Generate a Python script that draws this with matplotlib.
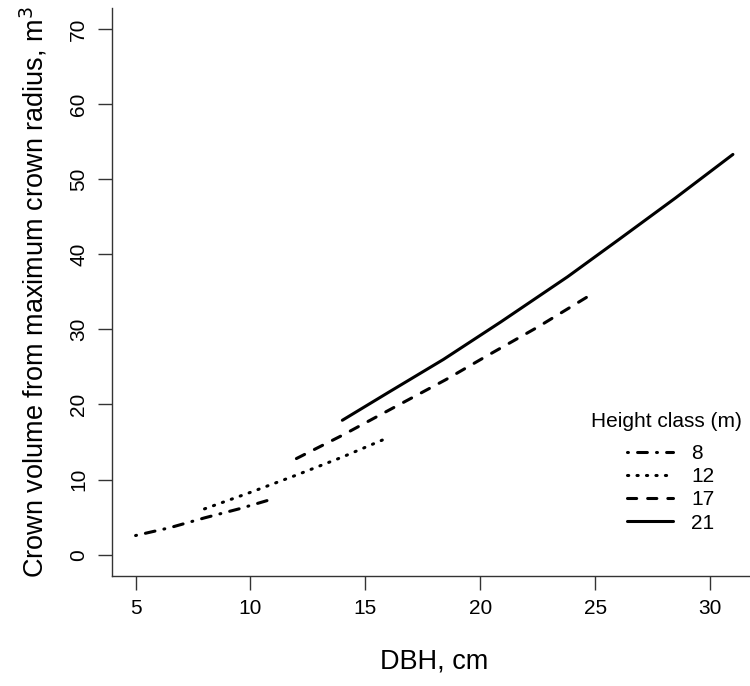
import matplotlib
matplotlib.use('Agg')
import matplotlib.pyplot as plt

plt.rcParams['font.family'] = ['Liberation Sans', 'DejaVu Sans']

# predicted crown volume (m3) against DBH (cm) for each height class
dbh_8 = [5, 6.5, 8, 9.5, 11]
vol_8 = [2.55, 3.6, 4.9, 6.1, 7.45]

dbh_12 = [8, 10, 12, 14, 16]
vol_12 = [6.1, 8.3, 10.6, 13.0, 15.6]

dbh_17 = [12, 14, 16, 18.5, 20.25, 22.5, 24.7]
vol_17 = [12.8, 15.9, 19.2, 23.3, 26.4, 30.3, 34.4]

dbh_21 = [14, 16, 18.4, 20.9, 23.8, 26.05, 28.5, 31]
vol_21 = [17.9, 21.6, 26.0, 31.0, 37.0, 42.0, 47.5, 53.3]

height_classes = ['8', '12', '17', '21']
x_ticks = [5, 10, 15, 20, 25, 30]
y_ticks = [0, 10, 20, 30, 40, 50, 60, 70]

W, H = 750, 686
fig = plt.figure(figsize=(W / 100, H / 100), dpi=100)

# axes box in pixels: left 111.7, bottom 575.7, top 8, right runs past the edge
left, bottom, top, right = 111.7, 575.7, 8.0, 756.8
ax = fig.add_axes([left / W, (H - bottom) / H, (right - left) / W, (bottom - top) / H])

lw = 2.2
styles = [
    dict(linestyle=(0, (0.3, 3.0, 3.2, 3.0))),   # dot-dash
    dict(linestyle=(0, (0.4, 2.7))),             # dotted
    dict(linestyle=(0, (3.0, 3.6))),             # dashed
    dict(linestyle='-'),
]
series = [(dbh_8, vol_8), (dbh_12, vol_12), (dbh_17, vol_17), (dbh_21, vol_21)]
for (x, y), st, lab in zip(series, styles, height_classes):
    ax.plot(x, y, color='black', lw=lw, dash_capstyle='round',
            solid_capstyle='round', label=lab, **st)

ax.set_xlim(3.96, 32.04)
ax.set_ylim(-2.8, 72.8)
ax.set_xticks(x_ticks)
ax.set_yticks(y_ticks)

for s in ['top', 'right']:
    ax.spines[s].set_visible(False)
for s in ['left', 'bottom']:
    ax.spines[s].set_linewidth(1.0)
    ax.spines[s].set_color('#333333')

ax.tick_params(axis='both', direction='out', length=10, width=1.0,
               color='#333333', labelsize=15, pad=7)
ax.tick_params(axis='y', labelrotation=90, pad=7)
for t in ax.get_yticklabels():
    t.set_va('center')

ax.set_xlabel('DBH, cm', fontsize=19.5, labelpad=22)
ax.set_ylabel('Crown volume from maximum crown radius, m$^3$', fontsize=19.5, labelpad=14)

# legend: title placed on its own, entries below it
fig.text(591 / W, 1 - 421.7 / H, 'Height class (m)', fontsize=15,
         ha='left', va='center')
leg = ax.legend(frameon=False, fontsize=15, handlelength=2.2, handletextpad=0.9,
                labelspacing=0.2, borderpad=0, borderaxespad=0,
                loc='center left', bbox_to_anchor=(626.7 / W, 1 - 488.4 / H),
                bbox_transform=fig.transFigure)

fig.savefig('out.png', dpi=100)
